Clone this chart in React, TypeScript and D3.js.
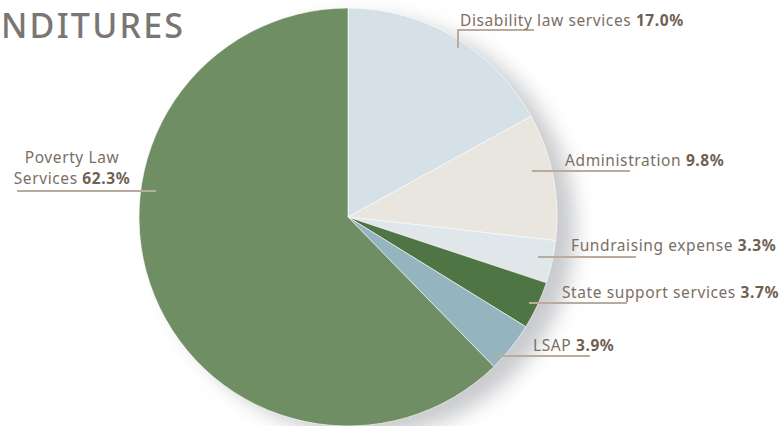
import React from 'react';
import * as d3 from 'd3';

const categories = ['Disability law services', 'Administration', 'Fundraising expense', 'State support services', 'LSAP', 'Poverty Law Services'];
const shares = [17.0, 9.8, 3.3, 3.7, 3.9, 62.3];
const colors = ['#d6e1e7', '#e9e6df', '#dfe7eb', '#4f7544', '#94b5c0', '#6f8e63'];

// label layout: text lines, anchor point, leader line
const labels = [
  { lines: ['Disability law services'], x: 460, y: 26, anchor: 'start', line: [[458, 48], [458, 30], [534, 30]] },
  { lines: ['Administration'], x: 565, y: 166, anchor: 'start', line: [[532, 171], [630, 171]] },
  { lines: ['Fundraising expense'], x: 571, y: 251, anchor: 'start', line: [[538, 257], [636, 257]] },
  { lines: ['State support services'], x: 562, y: 298, anchor: 'start', line: [[529, 303], [627, 303]] },
  { lines: ['LSAP'], x: 533, y: 351, anchor: 'start', line: [[492, 356], [590, 356]] },
  { lines: ['Poverty Law', 'Services'], x: 72, y: 163, anchor: 'middle', line: [[17, 191], [156, 191]] },
];

const cx = 348;
const cy = 217;
const r = 209;

export default function App() {
  const pie = d3.pie<number>().sort(null).startAngle(0).endAngle(2 * Math.PI);
  const arcs = pie(shares);
  const arc = d3.arc<d3.PieArcDatum<number>>().innerRadius(0).outerRadius(r);
  const lineGen = d3.line();
  const font = '"Noto Sans", "Open Sans", sans-serif';

  return (
    <svg width={784} height={426} style={{ position: 'absolute', left: 0, top: 0 }} fontFamily={font}>
      <defs>
        <filter id="shadow" x="-20%" y="-20%" width="140%" height="140%">
          <feGaussianBlur stdDeviation="10" />
        </filter>
      </defs>
      <rect width={784} height={426} fill="#fff" />
      <text x={1} y={38} fontSize={34} fill="#7a7673" fontWeight={500} letterSpacing={2.2}>NDITURES</text>
      <circle cx={cx + 18} cy={cy + 10} r={r} fill="#c9cacd" filter="url(#shadow)" />
      <g transform={`translate(${cx},${cy})`}>
        {arcs.map((a, i) => (
          <path key={categories[i]} d={arc(a) || ''} fill={colors[i]} stroke="#ffffff" strokeWidth={0.6} />
        ))}
      </g>
      {labels.map((l, i) => (
        <g key={categories[i]}>
          <path d={lineGen(l.line as [number, number][]) || ''} fill="none" stroke="#b9ab9d" strokeWidth={2} />
          <text x={l.x} y={l.y} textAnchor={l.anchor} fontSize={15.5} letterSpacing={0.6} fill="#7b6f65">
            {l.lines.map((t, j) => (
              <tspan key={j} x={l.x} dy={j === 0 ? 0 : 21}>
                {t}
                {j === l.lines.length - 1 ? (
                  <tspan fontWeight={700} fill="#6f6152">{' ' + shares[i].toFixed(1) + '%'}</tspan>
                ) : null}
              </tspan>
            ))}
          </text>
        </g>
      ))}
    </svg>
  );
}
